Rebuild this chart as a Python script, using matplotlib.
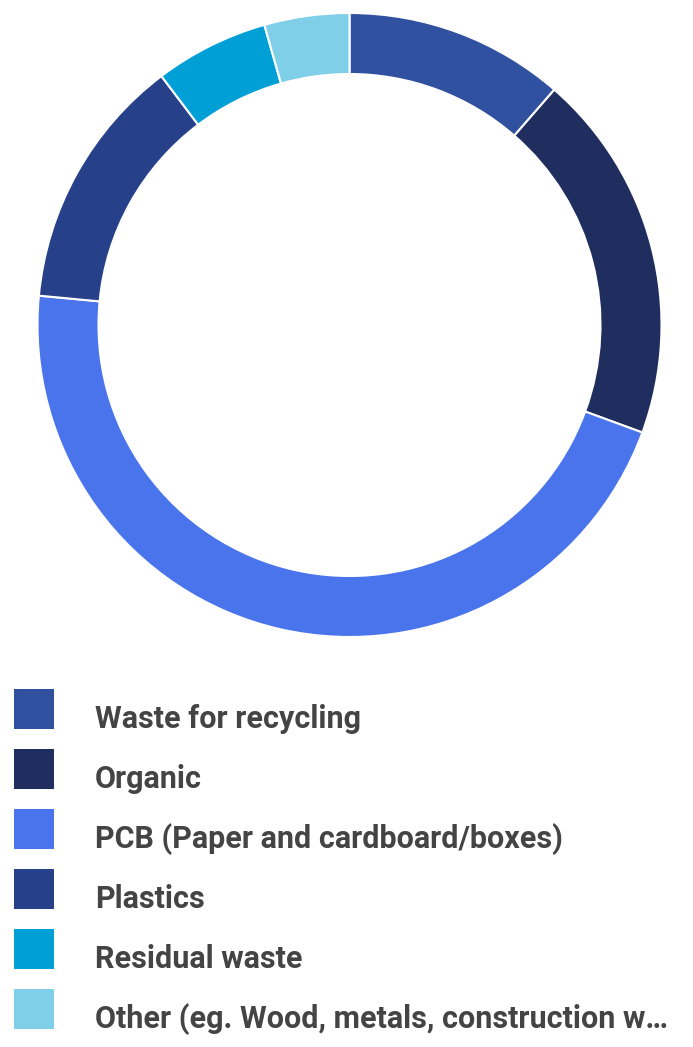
import matplotlib
matplotlib.use('Agg')
import matplotlib.pyplot as plt
from matplotlib.patches import Rectangle

labels = ['Waste for recycling', 'Organic', 'PCB (Paper and cardboard/boxes)',
          'Plastics', 'Residual waste', 'Other (eg. Wood, metals, construction w\u2026']
shares = [11.4, 19.2, 45.9, 13.2, 5.9, 4.4]
colors = ['#3050a0', '#1f2d5f', '#4a74eb', '#27408a', '#00a0d6', '#7fcfe9']

W, H = 693, 1047
fig = plt.figure(figsize=(W / 100, H / 100), dpi=100)

# donut, centre at (349.5, 325) px, outer radius 312 px
cx, cy, r = 349.5, 325, 312
ax = fig.add_axes([(cx - r) / W, 1 - (cy + r) / H, 2 * r / W, 2 * r / H])
ax.pie(shares, colors=colors, startangle=90, counterclock=False, radius=1,
       wedgeprops=dict(width=61 / 312, edgecolor='white', linewidth=1.5))
ax.set_xlim(-1, 1)
ax.set_ylim(-1, 1)
ax.set_aspect('equal')
ax.axis('off')

# legend rows
for i, (lab, col) in enumerate(zip(labels, colors)):
    top = 689 + 60 * i
    fig.patches.append(Rectangle((14 / W, 1 - (top + 40) / H), 40 / W, 40 / H,
                                 transform=fig.transFigure, facecolor=col,
                                 edgecolor='none'))
    fig.text(95 / W, 1 - (top + 30) / H, lab, fontsize=22, color='#444444',
             fontweight='bold', va='center', ha='left',
             family=['Roboto', 'DejaVu Sans'])

fig.savefig('out.png', dpi=100, facecolor='white')
